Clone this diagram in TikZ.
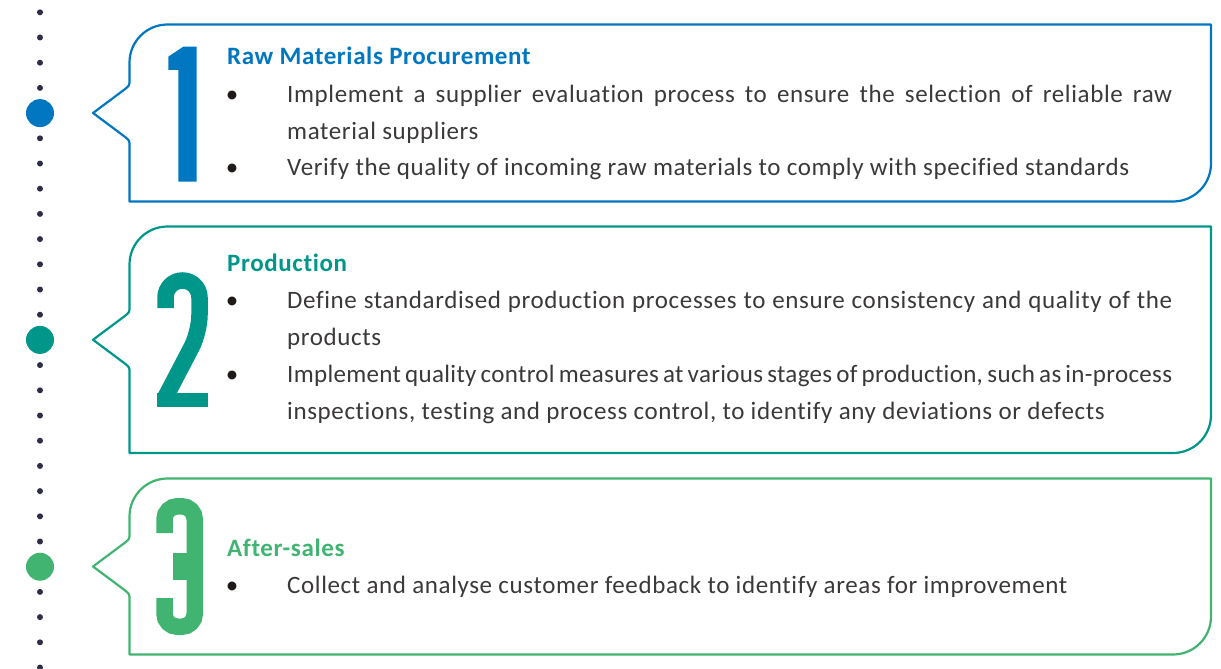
\documentclass[tikz,border=0pt]{standalone}
\usepackage{fontspec}
\setmainfont[Ligatures=CommonOff, LetterSpace=2.5]{Carlito}
\definecolor{stageblue}{RGB}{0,119,192}
\definecolor{stageteal}{RGB}{0,150,138}
\definecolor{stagegreen}{RGB}{64,180,112}
\definecolor{raildot}{RGB}{45,45,74}
\definecolor{bodytext}{RGB}{59,56,56}
\definecolor{bulletdot}{RGB}{31,26,23}

% callout frame: colour, top, middle (tip), bottom
\newcommand\stageframe[4]{%
  \draw[frame, #1] (129.5,#3-33) -- (129.5,#2+38)
    arc[start angle=180, end angle=270, radius=38] -- (1211,#2)
    -- (1211,#4-38) arc[start angle=0, end angle=90, radius=38]
    -- (129.5,#4) -- (129.5,#3+33)
    .. controls (129.5,#3+27.5) .. (124.5,#3+23.5) -- (93,#3)
    -- (124.5,#3-23.5) .. controls (129.5,#3-27.5) .. (129.5,#3-33) -- cycle;}

\begin{document}
\begin{tikzpicture}[x=1pt, y=-1pt,
  frame/.style={line width=2.2pt, line join=round},
  body/.style={anchor=base west, inner sep=0pt, text=bodytext,
    font=\fontsize{25}{30}\selectfont},
  head/.style={anchor=base west, inner sep=0pt,
    font=\fontsize{25}{30}\selectfont\bfseries},
  bul/.style={anchor=base, inner sep=0pt, text=bulletdot,
    font=\fontsize{25}{30}\selectfont},
  digitstroke/.style={line width=16.5pt, line cap=butt}]
\useasboundingbox (0,0) rectangle (1221,669);

% dotted rail on the left
\foreach \n in {0,...,26}
  \fill[raildot] (40,12.3+25.2*\n) circle (3);
\fill[stageblue]  (40,113.1) circle (14);
\fill[stageteal]  (40,339.9) circle (14);
\fill[stagegreen] (40,566.7) circle (14);

% frames
\stageframe{stageblue}{24.5}{113}{201.5}
\stageframe{stageteal}{226.5}{339.75}{453}
\stageframe{stagegreen}{478.5}{566.5}{654.5}

% digit 1
\fill[stageblue] (168.3,56.7) -- (183.3,46.7) -- (196.7,46.7) -- (196.7,181.7)
  -- (178.3,181.7) -- (178.3,70) -- (168.3,70) -- cycle;

% digit 2
\draw[digitstroke, stageteal, rounded corners=17] (165.5,308) -- (165.5,280.5)
  -- (199.5,280.5) -- (199.5,332) -- (165,398);
\fill[stageteal] (157,393) rectangle (208,407);

% digit 3
\draw[digitstroke, stagegreen, rounded corners=13] (164.5,533) -- (164.5,506.25)
  -- (194.75,506.25) -- (194.75,626.75) -- (164.5,626.75) -- (164.5,598);
\fill[stagegreen] (173,553) rectangle (195,580);

% stage 1 text
\node[head, text=stageblue] (t1) at (227,64.5) {Raw Materials Procurement};
\node[bul] (b1a) at (232,102.5) {•};
\node[body] (l1a) at (287,102.5) {\makebox[885pt][s]{Implement a supplier evaluation process to ensure the selection of reliable raw}};
\node[body] (l1b) at (287,139) {material suppliers};
\node[bul] (b1b) at (232,175.5) {•};
\node[body] (l1c) at (287,175.5) {Verify the quality of incoming raw materials to comply with specified standards};

% stage 2 text
\node[head, text=stageteal] (t2) at (227,271.5) {Production};
\node[bul] (b2a) at (232,308.5) {•};
\node[body] (l2a) at (287,308.5) {\makebox[885pt][s]{Define standardised production processes to ensure consistency and quality of the}};
\node[body] (l2b) at (287,345.5) {products};
\node[bul] (b2b) at (232,382.5) {•};
\node[body] (l2c) at (287,382.5) {\addfontfeature{LetterSpace=1.3}\makebox[885pt][s]{Implement quality control measures at various stages of production, such as in-process}};
\node[body] (l2d) at (287,419) {inspections, testing and process control, to identify any deviations or defects};

% stage 3 text
\node[head, text=stagegreen] (t3) at (227,556.5) {After-sales};
\node[bul] (b3a) at (232,593) {•};
\node[body] (l3a) at (287,593) {Collect and analyse customer feedback to identify areas for improvement};
\end{tikzpicture}
\end{document}
